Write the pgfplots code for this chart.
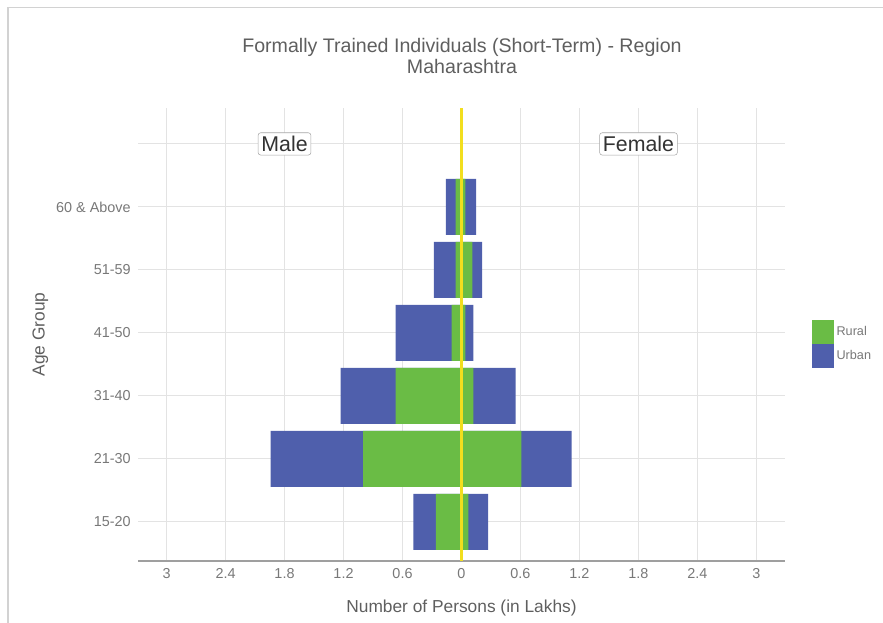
\documentclass[border=0pt]{standalone}
\usepackage{fontspec}
\setmainfont{Liberation Sans}
\usepackage{pgfplots}
\pgfplotsset{compat=1.18}
\usepackage{pgfplotstable}

\definecolor{rural}{RGB}{106,188,69}
\definecolor{urban}{RGB}{79,95,172}
\definecolor{zeroline}{RGB}{242,222,30}
\definecolor{txt}{RGB}{95,95,95}
\definecolor{ticktxt}{RGB}{120,120,120}

% age groups 1..6: 15-20, 21-30, 31-40, 41-50, 51-59, 60 & Above
% values in lakhs
\pgfplotstableread{
age mr   mu   fr   fu
1   0.26 0.23 0.07 0.20
2   1.00 0.94 0.61 0.51
3   0.67 0.56 0.12 0.43
4   0.10 0.57 0.04 0.08
5   0.06 0.22 0.11 0.10
6   0.06 0.10 0.04 0.11
}\pyramid

\begin{document}
\begin{tikzpicture}
\path[use as bounding box] (0,0) rectangle (662.25pt,-467.25pt);
\draw[gray!35, line width=1pt] (6pt,-467.25pt) -- (6pt,-5.5pt) -- (662.25pt,-5.5pt);

\node[txt, font=\fontsize{14.7}{16.5}\selectfont, align=center] at (346.5pt,-42pt)
  {Formally Trained Individuals (Short-Term) - Region\\Maharashtra};

\begin{axis}[
  at={(103.5pt,-420.75pt)}, anchor=south west,
  scale only axis,
  width=485.25pt, height=339.75pt,
  xmin=-3.29, xmax=3.29,
  ymin=0.38, ymax=7.57,
  xbar, bar width=0.89, bar shift=0pt,
  axis x line*=bottom, axis y line*=left,
  x axis line style={gray!75, line width=1pt},
  y axis line style={draw=none},
  major tick length=0pt,
  xtick={-3,-2.4,-1.8,-1.2,-0.6,0,0.6,1.2,1.8,2.4,3},
  xticklabels={3,2.4,1.8,1.2,0.6,0,0.6,1.2,1.8,2.4,3},
  ytick={1,2,3,4,5,6,7},
  yticklabels={15-20,21-30,31-40,41-50,51-59,60 \& Above,{}},
  grid=major,
  major grid style={gray!22, line width=0.8pt},
  tick label style={ticktxt, font=\fontsize{10.8}{12}\selectfont},
  /pgf/number format/assume math mode=true,
  xticklabel style={yshift=-2pt},
  yticklabel style={xshift=-2pt},
  xlabel={Number of Persons (in Lakhs)},
  ylabel={Age Group},
  label style={txt, font=\fontsize{13}{15}\selectfont},
  xlabel style={yshift=-9pt},
  ylabel style={yshift=-1pt},
  legend style={at={(1.035,0.48)}, anchor=west, draw=none, fill=none,
    font=\fontsize{9.5}{11}\selectfont, text=ticktxt,
    row sep=0pt, nodes={inner ysep=0pt}},
  legend cell align=left,
  legend image code/.code={\fill[#1] (0pt,-9pt) rectangle (16.5pt,9pt);},
  clip=false,
]
% urban = outer part (drawn as total), rural = inner part
\addplot[draw=none, fill=urban, forget plot] table[y=age, x expr=-(\thisrow{mr}+\thisrow{mu})] {\pyramid};
\addplot[draw=none, fill=urban, forget plot] table[y=age, x expr=\thisrow{fr}+\thisrow{fu}] {\pyramid};
\addplot[draw=none, fill=rural, forget plot] table[y=age, x expr=-\thisrow{mr}] {\pyramid};
\addplot[draw=none, fill=rural, forget plot] table[y=age, x=fr] {\pyramid};

\addplot[zeroline, line width=2.2pt, forget plot, sharp plot] coordinates {(0,0.38) (0,7.57)};

\addlegendimage{fill=rural, draw=none}
\addlegendentry{Rural}
\addlegendimage{fill=urban, draw=none}
\addlegendentry{Urban}

\node[draw=gray!70, fill=white, rounded corners=2pt, inner sep=2.5pt,
  font=\fontsize{16}{18}\selectfont, text=black!80] at (axis cs:-1.8,7) {Male};
\node[draw=gray!70, fill=white, rounded corners=2pt, inner sep=2.5pt,
  font=\fontsize{16}{18}\selectfont, text=black!80] at (axis cs:1.8,7) {Female};
\end{axis}
\end{tikzpicture}
\end{document}
